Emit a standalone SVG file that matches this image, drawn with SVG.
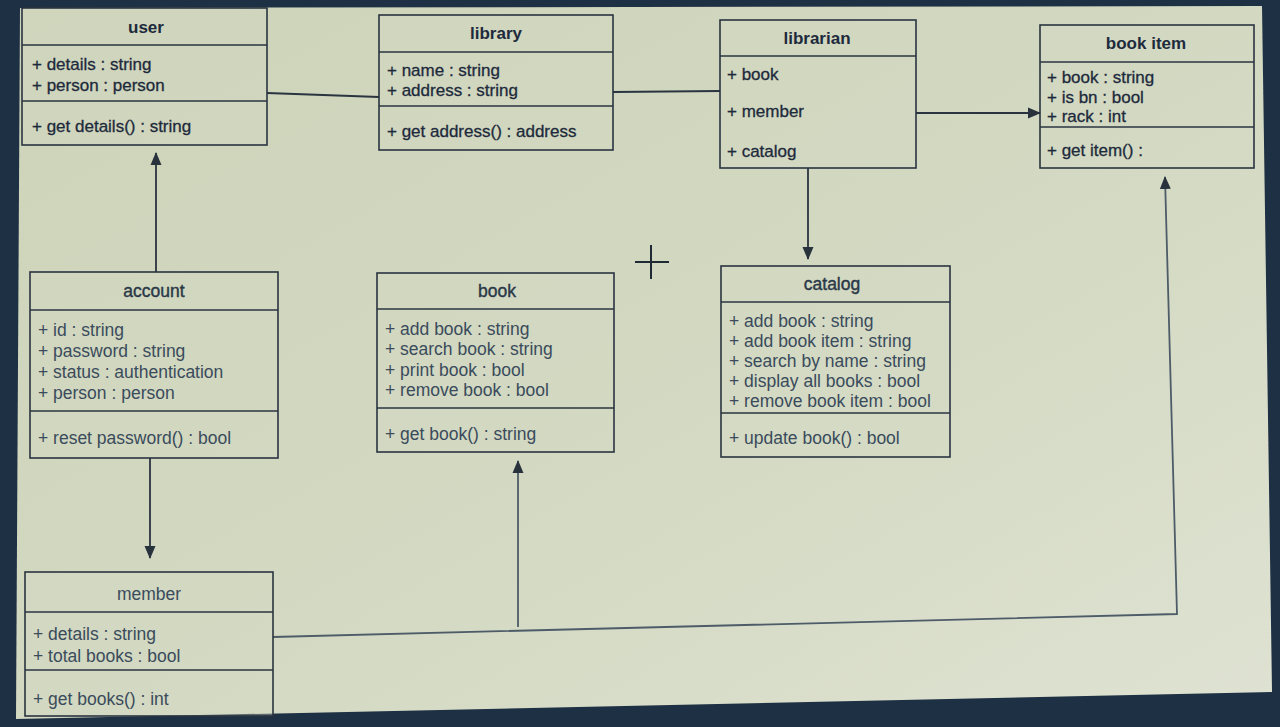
<svg xmlns="http://www.w3.org/2000/svg" width="1280" height="727" viewBox="0 0 1280 727">
<defs>
<linearGradient id="scr" x1="0" y1="0" x2="1" y2="1">
<stop offset="0" stop-color="#cdd4b9"/>
<stop offset="0.55" stop-color="#d3d9c2"/>
<stop offset="1" stop-color="#dfe2d2"/>
</linearGradient>
<marker id="arr" markerWidth="14" markerHeight="14" refX="12" refY="6.5" orient="auto" markerUnits="userSpaceOnUse">
<path d="M0,1 L13,6.5 L0,12 Z" fill="#27323d"/>
</marker>
<style>
.box{fill:#d5dac2;fill-opacity:0.35;stroke:#2a3440;stroke-width:1.6}
.div{stroke:#2a3440;stroke-width:1.6}
.t{font-family:"Liberation Sans",Arial,sans-serif;font-size:17px;fill:#1d2a3c;stroke:#1d2a3c;stroke-width:0.3}
.tb{font-family:"Liberation Sans",Arial,sans-serif;font-size:17px;font-weight:bold;fill:#1d2a3c;text-anchor:middle}
.l{font-family:"Liberation Sans",Arial,sans-serif;font-size:17.5px;fill:#3a4b5c}
.lb{font-family:"Liberation Sans",Arial,sans-serif;font-size:17.5px;fill:#2a3848;text-anchor:middle;stroke:#2a3848;stroke-width:0.4}
.c{fill:none;stroke:#2a3440;stroke-width:1.8}
.cl{fill:none;stroke:#4d5c68;stroke-width:1.8}
</style>
</defs>
<rect width="1280" height="727" fill="#1e3044"/>
<polygon points="20,8 1262,6 1272,692 16,719" fill="url(#scr)"/>

<g id="connectors">
<line class="c" x1="267" y1="93" x2="379" y2="97"/>
<line class="c" x1="613" y1="92" x2="720" y2="91"/>
<line class="c" x1="916" y1="113" x2="1040" y2="113" marker-end="url(#arr)"/>
<line class="c" x1="808" y1="168" x2="808" y2="259" marker-end="url(#arr)"/>
<line class="c" x1="156" y1="272" x2="156" y2="153" marker-end="url(#arr)"/>
<line class="c" x1="150" y1="458" x2="150" y2="558" marker-end="url(#arr)"/>
<line class="cl" x1="518" y1="627" x2="518" y2="461" marker-end="url(#arr)"/>
<polyline class="cl" points="273,637 1177,614 1165,177" marker-end="url(#arr)"/>
</g>

<g id="cursor">
<line x1="635" y1="262" x2="669" y2="262" stroke="#1f2a34" stroke-width="2"/>
<line x1="651" y1="245" x2="651" y2="279" stroke="#1f2a34" stroke-width="2"/>
</g>

<g id="user">
<rect class="box" x="22" y="8" width="245" height="137"/>
<line class="div" x1="22" y1="45" x2="267" y2="45"/>
<line class="div" x1="22" y1="101" x2="267" y2="101"/>
<text class="tb" x="146" y="33">user</text>
<text class="t" x="32" y="70">+ details : string</text>
<text class="t" x="32" y="91">+ person : person</text>
<text class="t" x="32" y="132">+ get details() : string</text>
</g>

<g id="library">
<rect class="box" x="379" y="15" width="234" height="135"/>
<line class="div" x1="379" y1="52" x2="613" y2="52"/>
<line class="div" x1="379" y1="106" x2="613" y2="106"/>
<text class="tb" x="496" y="39">library</text>
<text class="t" x="387" y="76">+ name : string</text>
<text class="t" x="387" y="96">+ address : string</text>
<text class="t" x="387" y="137">+ get address() : address</text>
</g>

<g id="librarian">
<rect class="box" x="720" y="20" width="196" height="148"/>
<line class="div" x1="720" y1="56" x2="916" y2="56"/>
<text class="tb" x="817" y="44">librarian</text>
<text class="t" x="727" y="80">+ book</text>
<text class="t" x="727" y="117">+ member</text>
<text class="t" x="727" y="157">+ catalog</text>
</g>

<g id="book-item">
<rect class="box" x="1040" y="25" width="214" height="143"/>
<line class="div" x1="1040" y1="62" x2="1254" y2="62"/>
<line class="div" x1="1040" y1="127" x2="1254" y2="127"/>
<text class="tb" x="1146" y="49">book item</text>
<text class="t" x="1047" y="83">+ book : string</text>
<text class="t" x="1047" y="103">+ is bn : bool</text>
<text class="t" x="1047" y="122">+ rack : int</text>
<text class="t" x="1047" y="156">+ get item() :</text>
</g>

<g id="account">
<rect class="box" x="30" y="272" width="248" height="186"/>
<line class="div" x1="30" y1="310" x2="278" y2="310"/>
<line class="div" x1="30" y1="411" x2="278" y2="411"/>
<text class="lb" x="154" y="297">account</text>
<text class="l" x="38" y="336">+ id : string</text>
<text class="l" x="38" y="357">+ password : string</text>
<text class="l" x="38" y="378">+ status : authentication</text>
<text class="l" x="38" y="399">+ person : person</text>
<text class="l" x="38" y="444">+ reset password() : bool</text>
</g>

<g id="book">
<rect class="box" x="377" y="273" width="237" height="179"/>
<line class="div" x1="377" y1="309" x2="614" y2="309"/>
<line class="div" x1="377" y1="408" x2="614" y2="408"/>
<text class="lb" x="497" y="297">book</text>
<text class="l" x="385" y="335">+ add book : string</text>
<text class="l" x="385" y="355">+ search book : string</text>
<text class="l" x="385" y="376">+ print book : bool</text>
<text class="l" x="385" y="396">+ remove book : bool</text>
<text class="l" x="385" y="440">+ get book() : string</text>
</g>

<g id="catalog">
<rect class="box" x="721" y="266" width="229" height="191"/>
<line class="div" x1="721" y1="302" x2="950" y2="302"/>
<line class="div" x1="721" y1="413" x2="950" y2="413"/>
<text class="lb" x="832" y="290">catalog</text>
<text class="l" x="729" y="327">+ add book : string</text>
<text class="l" x="729" y="347">+ add book item : string</text>
<text class="l" x="729" y="367">+ search by name : string</text>
<text class="l" x="729" y="387">+ display all books : bool</text>
<text class="l" x="729" y="407">+ remove book item : bool</text>
<text class="l" x="729" y="444">+ update book() : bool</text>
</g>

<g id="member">
<rect class="box" x="25" y="572" width="248" height="144"/>
<line class="div" x1="25" y1="612" x2="273" y2="612"/>
<line class="div" x1="25" y1="670" x2="273" y2="670"/>
<text class="l" x="149" y="600" text-anchor="middle">member</text>
<text class="l" x="33" y="640">+ details : string</text>
<text class="l" x="33" y="662">+ total books : bool</text>
<text class="l" x="33" y="705">+ get books() : int</text>
</g>
</svg>
